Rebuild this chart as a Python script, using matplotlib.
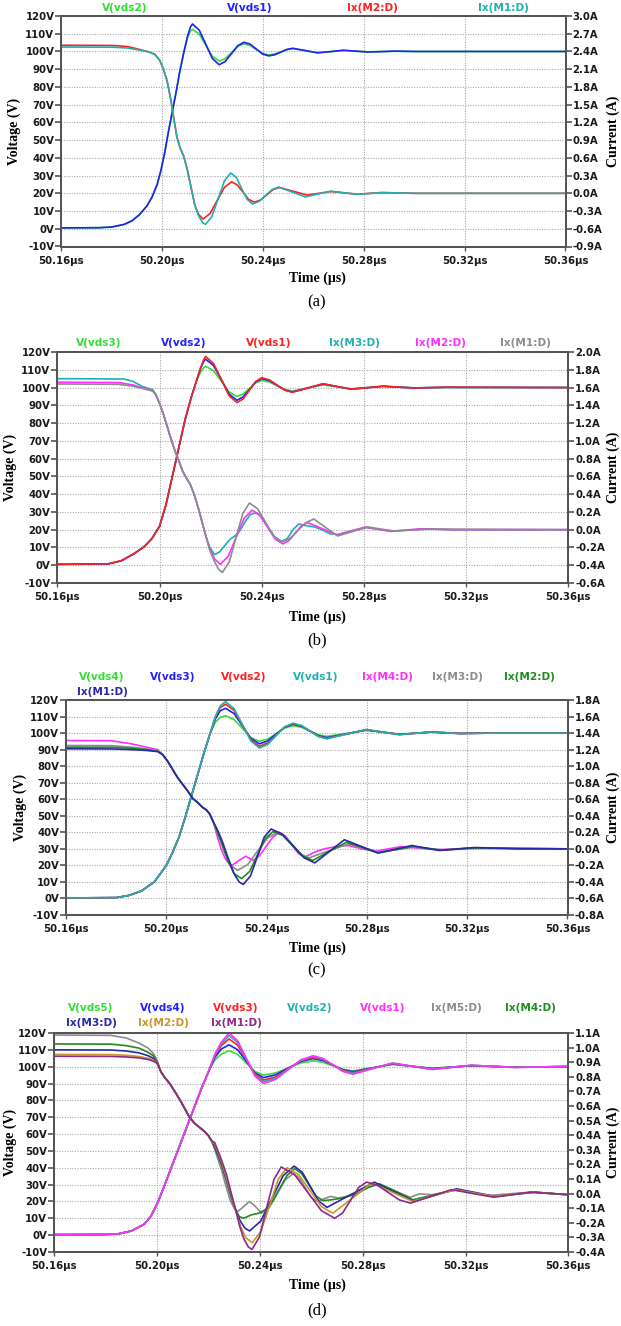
import matplotlib
matplotlib.use('Agg')
import matplotlib.pyplot as plt
from matplotlib.ticker import FixedLocator

plt.rcParams['font.family'] = ['DejaVu Sans']
plt.rcParams['font.weight'] = 'bold'

W, H = 621, 1326
fig = plt.figure(figsize=(W / 100, H / 100), dpi=100)

# ---------------- common axis data ----------------
x_ticks = [50.16, 50.20, 50.24, 50.28, 50.32, 50.36]
x_labels = ['50.16µs', '50.20µs', '50.24µs', '50.28µs', '50.32µs', '50.36µs']
v_ticks = [-10, 0, 10, 20, 30, 40, 50, 60, 70, 80, 90, 100, 110, 120]
ra_ticks = [-0.9, -0.6, -0.3, 0.0, 0.3, 0.6, 0.9, 1.2, 1.5, 1.8, 2.1, 2.4, 2.7, 3.0]
rb_ticks = [-0.6, -0.4, -0.2, 0.0, 0.2, 0.4, 0.6, 0.8, 1.0, 1.2, 1.4, 1.6, 1.8, 2.0]
rc_ticks = [-0.8, -0.6, -0.4, -0.2, 0.0, 0.2, 0.4, 0.6, 0.8, 1.0, 1.2, 1.4, 1.6, 1.8]
rd_ticks = [-0.4, -0.3, -0.2, -0.1, 0.0, 0.1, 0.2, 0.3, 0.4, 0.5, 0.6, 0.7, 0.8, 0.9, 1.0, 1.1]

GREEN = '#30e030'; BLUE = '#2020ff'; RED = '#ff2020'; CYAN = '#20b0b0'
MAGENTA = '#ff30ff'; GRAY = '#8c8c8c'; DKGREEN = '#1e8c1e'; NAVY = '#2828a8'
GOLD = '#c8962a'; PURPLE = '#8c2a8c'

# ================= panel (a) =================
t_rise_a = [50.160, 50.175, 50.180, 50.185, 50.188, 50.191, 50.194, 50.196, 50.198, 50.1995,
            50.201, 50.2025, 50.204, 50.2055, 50.207, 50.2085]
v_rise_a = [0.5, 0.6, 1.0, 2.5, 4.5, 8, 13, 18, 25, 33, 43, 55, 66, 77, 89, 99]
t_ring_a = [50.2085, 50.2100, 50.2112, 50.2120, 50.2147, 50.2173, 50.2199, 50.2226, 50.2250, 50.2275,
            50.2300, 50.2324, 50.2348, 50.2373, 50.2398, 50.2422, 50.2446, 50.2470, 50.2494, 50.2518,
            50.2567, 50.2616, 50.2667, 50.2718, 50.2766, 50.2814, 50.2867, 50.2920, 50.3000, 50.3600]
vds1_a = [99, 108.5, 113.8, 115.5, 112, 104, 96, 92.5, 94.4, 98.8, 103.3, 105.2, 104.2, 101.4, 98.6,
          97.5, 98.1, 99.6, 101.1, 101.8, 100.5, 99.2, 99.9, 100.7, 100.2, 99.7, 99.9, 100.2, 100, 100]
vds2_a = [99, 107.5, 111.5, 112.5, 109.8, 103.5, 97.3, 94.5, 96, 99.4, 102.8, 104.3, 103.4, 101.1, 98.9,
          98, 98.6, 99.8, 101, 101.6, 100.5, 99.4, 99.9, 100.5, 100.2, 99.8, 99.9, 100.1, 100, 100]
t_ixm2_a = [50.160, 50.180, 50.186, 50.190, 50.194, 50.197, 50.199, 50.2005, 50.202, 50.2035,
            50.2045, 50.2058, 50.207, 50.2085, 50.2100, 50.2115, 50.2130, 50.2145, 50.2162, 50.2190,
            50.2218, 50.2247, 50.2275, 50.2297, 50.2320, 50.2342, 50.2365, 50.2390, 50.2415, 50.2440,
            50.2465, 50.2520, 50.2575, 50.2622, 50.2670, 50.2722, 50.2775, 50.2870, 50.3000, 50.3600]
ixm2_a = [2.505, 2.502, 2.484, 2.445, 2.400, 2.355, 2.250, 2.100, 1.890, 1.560,
          1.290, 0.960, 0.780, 0.630, 0.390, 0.090, -0.210, -0.360, -0.435, -0.342,
          -0.120, 0.102, 0.195, 0.144, 0.0225, -0.099, -0.150, -0.114, -0.0255, 0.063,
          0.099, 0.0345, -0.030, 0.0, 0.030, 0.0075, -0.015, 0.012, 0.0, 0.0]
t_ixm1_a = [50.160, 50.180, 50.186, 50.190, 50.194, 50.197, 50.199, 50.2005, 50.202, 50.2035,
            50.2045, 50.2058, 50.207, 50.2085, 50.2100, 50.2115, 50.2130, 50.2145, 50.2160, 50.2172,
            50.2197, 50.2222, 50.2247, 50.2272, 50.2294, 50.2315, 50.2337, 50.2358, 50.2384, 50.2410,
            50.2436, 50.2462, 50.2515, 50.2568, 50.2618, 50.2668, 50.2722, 50.2775, 50.2870, 50.3000, 50.3600]
ixm1_a = [2.475, 2.472, 2.460, 2.430, 2.400, 2.355, 2.250, 2.100, 1.890, 1.560,
          1.290, 0.960, 0.780, 0.630, 0.390, 0.090, -0.210, -0.390, -0.495, -0.525,
          -0.393, -0.090, 0.213, 0.345, 0.267, 0.0825, -0.102, -0.180, -0.138, -0.0375,
          0.063, 0.105, 0.0225, -0.060, -0.012, 0.036, 0.009, -0.018, 0.012, 0.0, 0.0]

# ================= panel (b) =================
t_rise_b = [50.160, 50.180, 50.185, 50.190, 50.194, 50.197, 50.200, 50.2025, 50.205, 50.2075,
            50.210, 50.2125, 50.2145]
v_rise_b = [0.5, 0.8, 2.5, 6.5, 10.5, 15, 22, 34, 50, 66, 82, 95, 104]
t_ring_b = [50.2145, 50.2160, 50.2172, 50.2180, 50.2211, 50.2242, 50.2272, 50.2303, 50.2327, 50.2352,
            50.2376, 50.2400, 50.2430, 50.2460, 50.2490, 50.2520, 50.2580, 50.2640, 50.2695, 50.2750,
            50.2812, 50.2875, 50.2935, 50.2995, 50.3058, 50.3120, 50.3600]
vds1_b = [104, 111, 115.5, 117.5, 113.6, 104.5, 95.4, 91.5, 93.6, 98.5, 103.4, 105.5, 104.3, 101.4,
          98.5, 97.3, 99.75, 102.2, 100.6, 99.0, 99.9, 100.8, 100.25, 99.7, 99.95, 100.2, 100]
vds2_b = [104, 110.5, 114.5, 116, 112.4, 104.4, 96.4, 92.8, 94.7, 98.9, 103.1, 105, 103.9, 101.25,
          98.6, 97.5, 99.75, 102, 100.55, 99.1, 99.9, 100.7, 100.25, 99.8, 99.95, 100.1, 100]
vds3_b = [104, 108.5, 111, 112, 109.5, 103.5, 97.5, 95, 96.35, 99.5, 102.65, 104, 103.1, 101,
          98.9, 98, 99.75, 101.5, 100.4, 99.3, 99.95, 100.6, 100.2, 99.8, 99.95, 100.1, 100]
t_fall_b = [50.1985, 50.2000, 50.2015, 50.2030, 50.2045, 50.2060, 50.2075, 50.2090, 50.2105, 50.2120,
            50.2135, 50.2150, 50.2165, 50.2180]
i_fall_b = [1.52, 1.42, 1.30, 1.16, 1.02, 0.89, 0.78, 0.66, 0.58, 0.51, 0.40, 0.26, 0.10, -0.06]
t_pre_m3_b = [50.160, 50.186, 50.1895, 50.1934, 50.1973]
i_pre_m3_b = [1.70, 1.696, 1.67, 1.61, 1.576]
t_pre_m2_b = [50.160, 50.184, 50.1895, 50.1934, 50.1973]
i_pre_m2_b = [1.66, 1.656, 1.63, 1.596, 1.566]
t_pre_m1_b = [50.160, 50.184, 50.1895, 50.1934, 50.1973]
i_pre_m1_b = [1.64, 1.636, 1.616, 1.588, 1.56]
t_post_m3_b = [50.2195, 50.2215, 50.2235, 50.2255, 50.2275, 50.2295, 50.2315, 50.2335, 50.2355, 50.2378,
               50.2400, 50.2425, 50.2450, 50.2478, 50.2500, 50.2522, 50.2545, 50.2575, 50.2605, 50.2635,
               50.2665, 50.2697, 50.2755, 50.2810, 50.2865, 50.2915, 50.2985, 50.3050, 50.3150, 50.3600]
i_post_m3_b = [-0.19, -0.28, -0.25, -0.18, -0.11, -0.07, -0.01, 0.09, 0.17, 0.19,
               0.15, 0.03, -0.08, -0.13, -0.10, 0.0, 0.064, 0.044, 0.032, 0.0,
               -0.044, -0.054, -0.01, 0.024, 0.0, -0.016, -0.004, 0.01, 0.0, 0.0]
t_post_m2_b = [50.2195, 50.2215, 50.2238, 50.2269, 50.2300, 50.2331, 50.2362, 50.2392, 50.2422, 50.2452,
               50.2482, 50.2506, 50.2531, 50.2555, 50.2580, 50.2638, 50.2695, 50.2750, 50.2805, 50.2855,
               50.2905, 50.2960, 50.3020, 50.3150, 50.3600]
i_post_m2_b = [-0.20, -0.33, -0.39, -0.298, -0.085, 0.128, 0.22, 0.163, 0.03, -0.103,
               -0.16, -0.124, -0.04, 0.044, 0.08, 0.01, -0.06, -0.015, 0.03, 0.005,
               -0.02, -0.005, 0.01, 0.0, 0.0]
t_post_m1_b = [50.2195, 50.2215, 50.2232, 50.2246, 50.2273, 50.2299, 50.2326, 50.2352, 50.2384, 50.2415,
               50.2447, 50.2478, 50.2510, 50.2541, 50.2573, 50.2604, 50.2650, 50.2697, 50.2756, 50.2815,
               50.2865, 50.2915, 50.3050, 50.3600]
i_post_m1_b = [-0.22, -0.36, -0.45, -0.48, -0.362, -0.09, 0.184, 0.30, 0.234, 0.08,
               -0.074, -0.14, -0.10, -0.01, 0.08, 0.12, 0.025, -0.07, -0.02, 0.03,
               0.008, -0.014, 0.006, 0.0]

# ================= panel (c) =================
t_rise_c = [50.160, 50.180, 50.185, 50.190, 50.1952, 50.200, 50.2025, 50.205, 50.2075, 50.210,
            50.2125, 50.215, 50.2175]
v_rise_c = [0.3, 0.5, 1.8, 4.5, 10, 20, 28, 37, 49, 62, 75, 88, 100]
t_ring_c = [50.2175, 50.2195, 50.2215, 50.2236, 50.2270, 50.2304, 50.2337, 50.2371, 50.2405, 50.2438,
            50.2472, 50.2505, 50.2539, 50.2573, 50.2606, 50.2640, 50.2719, 50.2797, 50.2864, 50.2930,
            50.2994, 50.3058, 50.3114, 50.3170, 50.3300, 50.3600]
vds1_c = [100, 110, 116.5, 119, 114.8, 105, 95.2, 91, 93.25, 98.5, 103.75, 106, 104.6, 101.25, 97.9,
          96.5, 99.35, 102.2, 100.6, 99, 99.9, 100.8, 100.25, 99.7, 100, 100]
vds2_c = [100, 109.5, 115.5, 117.5, 113.7, 104.75, 95.8, 92, 94.05, 98.85, 103.65, 105.7, 104.4, 101.25,
          98.1, 96.8, 99.4, 102, 100.55, 99.1, 99.9, 100.7, 100.2, 99.7, 100, 100]
vds3_c = [100, 108.5, 113.5, 115, 111.8, 104.25, 96.7, 93.5, 95.3, 99.4, 103.5, 105.3, 104.1, 101.25,
          98.4, 97.2, 99.55, 101.9, 100.55, 99.2, 99.9, 100.6, 100.2, 99.8, 100, 100]
vds4_c = [100, 106.5, 109.5, 110.5, 108.2, 102.75, 97.3, 95, 96.4, 99.75, 103.1, 104.5, 103.5, 101.25,
          99, 98, 99.8, 101.6, 100.5, 99.4, 99.95, 100.5, 100.15, 99.8, 100, 100]
t_pre_c = [50.160, 50.178, 50.186, 50.192, 50.1965]
i_pre_m4_c = [1.31, 1.308, 1.27, 1.23, 1.20]
i_pre_m3_c = [1.25, 1.248, 1.23, 1.21, 1.186]
i_pre_m2_c = [1.23, 1.228, 1.216, 1.20, 1.18]
i_pre_m1_c = [1.21, 1.208, 1.20, 1.19, 1.176]
t_fall_c = [50.1985, 50.2005, 50.2025, 50.2045, 50.2065, 50.2085, 50.2105, 50.2125, 50.2145, 50.2160,
            50.2173, 50.2188]
i_fall_c = [1.14, 1.06, 0.96, 0.86, 0.78, 0.70, 0.61, 0.56, 0.50, 0.47, 0.42, 0.32]
t_post_m4_c = [50.2202, 50.2218, 50.2235, 50.2250, 50.2262, 50.2290, 50.2316, 50.2347, 50.2372, 50.2398,
               50.2424, 50.2450, 50.2475, 50.2500, 50.2526, 50.2552, 50.2590, 50.2630, 50.2680, 50.2726,
               50.2780, 50.2835, 50.2885, 50.2935, 50.3000, 50.3080, 50.3200, 50.3600]
i_post_m4_c = [0.16, 0.00, -0.12, -0.18, -0.20, -0.14, -0.09, -0.14, -0.08, 0.03,
               0.14, 0.20, 0.156, 0.05, -0.056, -0.10, -0.04, 0.00, 0.03, 0.04,
               0.00, -0.03, 0.00, 0.026, 0.01, -0.01, 0.006, 0.0]
t_post_m3_c = [50.2202, 50.2220, 50.2240, 50.2260, 50.2284, 50.2324, 50.2363, 50.2403, 50.2442, 50.2473,
               50.2505, 50.2536, 50.2568, 50.2647, 50.2726, 50.2789, 50.2852, 50.2918, 50.2985, 50.3110,
               50.3250, 50.3600]
i_post_m3_c = [0.20, 0.06, -0.10, -0.21, -0.26, -0.191, -0.03, 0.13, 0.20, 0.154,
               0.045, -0.064, -0.11, -0.025, 0.06, 0.01, -0.04, -0.01, 0.02, -0.014,
               0.01, 0.0]
t_post_m2_c = [50.2202, 50.2222, 50.2245, 50.2270, 50.2300, 50.2332, 50.2363, 50.2395, 50.2426, 50.2466,
               50.2505, 50.2545, 50.2584, 50.2651, 50.2718, 50.2781, 50.2844, 50.2915, 50.2985, 50.3095,
               50.3230, 50.3600]
i_post_m2_c = [0.22, 0.06, -0.14, -0.30, -0.36, -0.274, -0.075, 0.124, 0.21, 0.158,
               0.035, -0.088, -0.14, -0.03, 0.08, 0.015, -0.05, -0.01, 0.03, -0.016,
               0.012, 0.0]
t_post_m1_c = [50.2202, 50.2222, 50.2245, 50.2270, 50.2290, 50.2307, 50.2335, 50.2363, 50.2390, 50.2418,
               50.2462, 50.2505, 50.2549, 50.2592, 50.2651, 50.2710, 50.2777, 50.2844, 50.2911, 50.2979,
               50.3034, 50.3089, 50.3230, 50.3400, 50.3600]
i_post_m1_c = [0.24, 0.10, -0.10, -0.30, -0.40, -0.43, -0.33, -0.095, 0.14, 0.24,
               0.178, 0.035, -0.108, -0.17, -0.03, 0.11, 0.03, -0.05, -0.005, 0.04,
               0.01, -0.02, 0.016, 0.0, 0.0]

# ================= panel (d) =================
t_rise_d = [50.160, 50.180, 50.185, 50.190, 50.195, 50.1975, 50.200, 50.2025, 50.205, 50.2075,
            50.210, 50.2125, 50.215, 50.2175, 50.220]
v_rise_d = [0.3, 0.4, 0.8, 2.5, 6.5, 11, 18.5, 28, 38, 48, 58, 68, 78, 88, 97]
t_ring_d = [50.2200, 50.2225, 50.2250, 50.2280, 50.2313, 50.2347, 50.2380, 50.2414, 50.2462, 50.2510,
            50.2559, 50.2607, 50.2646, 50.2685, 50.2723, 50.2762, 50.2839, 50.2916, 50.2993, 50.3070,
            50.3147, 50.3223, 50.3307, 50.3390, 50.3600]
vds1_d = [97, 107.5, 114.5, 120, 115.5, 105, 94.5, 90, 92.5, 98.25, 104, 106.5, 104.85, 101, 97.15,
          95.5, 98.85, 102.2, 100.25, 98.3, 99.6, 100.9, 100.2, 99.5, 100.2]
vds2_d = [97, 107, 113.5, 118.5, 114.4, 104.75, 95.1, 91, 93.25, 98.5, 103.75, 106, 104.5, 101, 97.5,
          96, 99, 102, 100.25, 98.5, 99.65, 100.8, 100.2, 99.6, 100.1]
vds3_d = [97, 106.5, 112.5, 116.5, 112.8, 104.25, 95.7, 92, 94, 98.75, 103.5, 105.5, 104.15, 101, 97.85,
          96.5, 99.15, 101.8, 100.25, 98.7, 99.7, 100.7, 100.2, 99.7, 100.1]
vds4_d = [97, 105.5, 110.5, 113, 110.1, 103.25, 96.4, 93.5, 95.2, 99.15, 103.1, 104.8, 103.6, 100.9, 98.2,
          97, 99.3, 101.6, 100.25, 98.9, 99.75, 100.6, 100.15, 99.7, 100.1]
vds5_d = [97, 104, 107.5, 109.5, 107.3, 102.25, 97.2, 95, 96.3, 99.25, 102.2, 103.5, 102.6, 100.5, 98.4,
          97.5, 99.4, 101.3, 100.2, 99.1, 99.8, 100.5, 100.15, 99.8, 100]
t_pre_d = [50.160, 50.182, 50.188, 50.193, 50.1965, 50.1985, 50.200]
i_pre_m5_d = [1.0861, 1.0838, 1.0654, 1.0307, 0.9961, 0.9615, 0.9096]
i_pre_m4_d = [1.0250, 1.0238, 1.0134, 0.9961, 0.9673, 0.9442, 0.9038]
i_pre_m3_d = [0.9846, 0.9835, 0.9765, 0.9638, 0.9442, 0.9269, 0.8980]
i_pre_m2_d = [0.9534, 0.9523, 0.9477, 0.9384, 0.9269, 0.9154, 0.8946]
i_pre_m1_d = [0.9407, 0.9396, 0.9361, 0.9292, 0.9188, 0.9073, 0.8923]
t_fall_d = [50.2015, 50.2030, 50.2049, 50.2070, 50.2090, 50.2108, 50.2126, 50.2145, 50.2165, 50.2185,
            50.2200, 50.2212]
i_fall_d = [0.8346, 0.7942, 0.7538, 0.6961, 0.6384, 0.5808, 0.5231, 0.4827, 0.4538, 0.4250,
            0.3961, 0.3615]
t_post_m5_d = [50.2224, 50.2237, 50.2252, 50.2268, 50.2285, 50.2300, 50.2314, 50.2337, 50.2359, 50.2383,
               50.2406, 50.2437, 50.2468, 50.2499, 50.2530, 50.2553, 50.2576, 50.2599, 50.2622, 50.2675,
               50.2705, 50.2775, 50.2820, 50.2860, 50.2925, 50.2985, 50.3020, 50.3070, 50.3170, 50.3285,
               50.3450, 50.3600]
i_post_m5_d = [0.3038, 0.2346, 0.1538, 0.0500, -0.0481, -0.1000, -0.1231, -0.0885, -0.0538, -0.0885,
               -0.1346, -0.0942, 0.0010, 0.0961, 0.1365, 0.1077, 0.0413, -0.0250, -0.0538, -0.0192,
               -0.0308, -0.0077, 0.0442, 0.0615, 0.0154, -0.0250, -0.0019, -0.0077, 0.0269, -0.0135,
               0.0096, -0.0077]
t_post_m4_d = [50.2224, 50.2237, 50.2252, 50.2268, 50.2285, 50.2305, 50.2320, 50.2337, 50.2365, 50.2395,
               50.2420, 50.2449, 50.2478, 50.2506, 50.2535, 50.2562, 50.2590, 50.2617, 50.2645, 50.2680,
               50.2720, 50.2780, 50.2825, 50.2865, 50.2930, 50.2995, 50.3080, 50.3165, 50.3305, 50.3465,
               50.3600]
i_post_m4_d = [0.3154, 0.2577, 0.1885, 0.0961, -0.0077, -0.1115, -0.1577, -0.1692, -0.1462, -0.1346,
               -0.1115, -0.0538, 0.0385, 0.1250, 0.1711, 0.1377, 0.0615, -0.0146, -0.0481, -0.0423,
               -0.0308, 0.0038, 0.0442, 0.0673, 0.0154, -0.0423, -0.0077, 0.0269, -0.0192, 0.0108,
               -0.0077]
t_post_m3_d = [50.2224, 50.2237, 50.2252, 50.2268, 50.2285, 50.2305, 50.2325, 50.2343, 50.2360, 50.2403,
               50.2447, 50.2490, 50.2533, 50.2565, 50.2597, 50.2629, 50.2661, 50.2753, 50.2845, 50.2922,
               50.3000, 50.3083, 50.3165, 50.3315, 50.3470, 50.3600]
i_post_m3_d = [0.3269, 0.2692, 0.2000, 0.1077, 0.0038, -0.1115, -0.1923, -0.2385, -0.2558, -0.1888,
               -0.0337, 0.1215, 0.1885, 0.1458, 0.0471, -0.0515, -0.0942, -0.0077, 0.0788, 0.0125,
               -0.0538, -0.0106, 0.0327, -0.0192, 0.0096, -0.0077]
t_post_m2_d = [50.2224, 50.2237, 50.2252, 50.2268, 50.2285, 50.2305, 50.2325, 50.2345, 50.2370, 50.2404,
               50.2438, 50.2472, 50.2506, 50.2550, 50.2595, 50.2639, 50.2684, 50.2760, 50.2835, 50.2915,
               50.2995, 50.3077, 50.3160, 50.3310, 50.3460, 50.3600]
i_post_m2_d = [0.3385, 0.2808, 0.2115, 0.1192, 0.0154, -0.1115, -0.2269, -0.3019, -0.3365, -0.2592,
               -0.0798, 0.0996, 0.1769, 0.1308, 0.0211, -0.0885, -0.1346, -0.0308, 0.0731, 0.0096,
               -0.0538, -0.0135, 0.0269, -0.0192, 0.0096, -0.0077]
t_post_m1_d = [50.2224, 50.2237, 50.2252, 50.2270, 50.2290, 50.2306, 50.2322, 50.2337, 50.2355, 50.2369,
               50.2398, 50.2426, 50.2455, 50.2483, 50.2535, 50.2587, 50.2639, 50.2691, 50.2722, 50.2753,
               50.2784, 50.2815, 50.2858, 50.2900, 50.2943, 50.2986, 50.3065, 50.3145, 50.3310, 50.3454,
               50.3600]
i_post_m1_d = [0.3500, 0.2923, 0.2231, 0.1308, -0.0077, -0.1115, -0.2269, -0.3077, -0.3654, -0.3827,
               -0.2979, -0.1000, 0.0979, 0.1827, 0.1296, 0.0067, -0.1162, -0.1692, -0.1323, -0.0452,
               0.0419, 0.0788, 0.0569, 0.0067, -0.0435, -0.0654, -0.0192, 0.0269, -0.0250, 0.0096,
               -0.0077]

# ---------------- layout (pixels) ----------------
PT = 72 / 100  # points per pixel at 100 dpi


def px_rect(left, right, top, bottom):
    return [left / W, 1 - bottom / H, (right - left) / W, (bottom - top) / H]


def setup(rect, r_ticks, r_lim):
    ax = fig.add_axes(rect)
    ax.set_xlim(50.16, 50.36)
    ax.set_ylim(-10, 120)
    ax.xaxis.set_major_locator(FixedLocator(x_ticks))
    ax.set_xticklabels(x_labels)
    ax.yaxis.set_major_locator(FixedLocator(v_ticks))
    ax.set_yticklabels([f"{v}V" for v in v_ticks])
    ax.grid(True, color='#a8a8a8', lw=0.8, linestyle=(0, (1, 1.3)))
    ax.set_axisbelow(True)
    ax2 = ax.twinx()
    ax2.set_ylim(*r_lim)
    ax2.yaxis.set_major_locator(FixedLocator(r_ticks))
    ax2.set_yticklabels([f"{v:.1f}A" for v in r_ticks])
    for a in (ax, ax2):
        for s in a.spines.values():
            s.set_color('#555555')
            s.set_linewidth(1.4)
        a.tick_params(axis='y', colors='#555555', labelcolor='#1a1a1a', width=1.2,
                      length=6 * PT, labelsize=7.3, pad=1 * PT)
    ax.tick_params(axis='x', colors='#555555', labelcolor='#1a1a1a', width=1.0,
                   length=4 * PT, pad=5 * PT, labelsize=7.3)
    return ax, ax2


def labels(ax, vx, rx, time_y, cap_y, cap):
    pos = ax.get_position()
    yc = pos.y0 + pos.height / 2
    fig.text(vx / W, yc, 'Voltage (V)', rotation=90, ha='center', va='center',
             family='Liberation Serif', fontsize=10, fontweight='bold')
    fig.text(rx / W, yc, 'Current (A)', rotation=90, ha='center', va='center',
             family='Liberation Serif', fontsize=10, fontweight='bold')
    fig.text(317 / W, 1 - time_y / H, 'Time (µs)', ha='center', va='center',
             family='Liberation Serif', fontsize=10, fontweight='bold')
    fig.text(317 / W, 1 - cap_y / H, cap, ha='center', va='center',
             family='Liberation Serif', fontsize=12, fontweight='normal')


def legend(items, y):
    for name, color, x in items:
        fig.text(x / W, 1 - y / H, name, color=color, ha='center', va='center',
                 fontsize=7.6, fontweight='bold')


LW = 1.2

# ---- panel (a)
axa, axa2 = setup(px_rect(61.4, 565.5, 16, 246.5), ra_ticks, (-0.9, 3.0))
axa.plot(t_rise_a + t_ring_a, v_rise_a + vds2_a, color=GREEN, lw=LW)
axa.plot(t_rise_a + t_ring_a, v_rise_a + vds1_a, color=BLUE, lw=LW)
axa2.plot(t_ixm2_a, ixm2_a, color=RED, lw=LW)
axa2.plot(t_ixm1_a, ixm1_a, color=CYAN, lw=LW)
labels(axa, 14, 613, 278, 302, '(a)')
legend([('V(vds2)', GREEN, 125), ('V(vds1)', BLUE, 250), ('Ix(M2:D)', RED, 372),
        ('Ix(M1:D)', CYAN, 503)], 8)

# ---- panel (b)
axb, axb2 = setup(px_rect(57.4, 568.3, 352, 583), rb_ticks, (-0.6, 2.0))
for v, c in ((vds3_b, GREEN), (vds2_b, BLUE), (vds1_b, RED)):
    axb.plot(t_rise_b + t_ring_b, v_rise_b + v, color=c, lw=LW)
for tp, ip, tq, iq, c in ((t_pre_m3_b, i_pre_m3_b, t_post_m3_b, i_post_m3_b, CYAN),
                          (t_pre_m2_b, i_pre_m2_b, t_post_m2_b, i_post_m2_b, MAGENTA),
                          (t_pre_m1_b, i_pre_m1_b, t_post_m1_b, i_post_m1_b, GRAY)):
    axb2.plot(tp + t_fall_b + tq, ip + i_fall_b + iq, color=c, lw=LW)
labels(axb, 10, 613, 617, 640, '(b)')
legend([('V(vds3)', GREEN, 99), ('V(vds2)', BLUE, 184), ('V(vds1)', RED, 269),
        ('Ix(M3:D)', CYAN, 354), ('Ix(M2:D)', MAGENTA, 440), ('Ix(M1:D)', GRAY, 525)], 343)

# ---- panel (c)
axc, axc2 = setup(px_rect(66.1, 567.5, 700, 915), rc_ticks, (-0.8, 1.8))
for v, c in ((vds4_c, GREEN), (vds3_c, BLUE), (vds2_c, RED), (vds1_c, CYAN)):
    axc.plot(t_rise_c + t_ring_c, v_rise_c + v, color=c, lw=LW)
for ip, tq, iq, c in ((i_pre_m4_c, t_post_m4_c, i_post_m4_c, MAGENTA),
                      (i_pre_m3_c, t_post_m3_c, i_post_m3_c, GRAY),
                      (i_pre_m2_c, t_post_m2_c, i_post_m2_c, DKGREEN),
                      (i_pre_m1_c, t_post_m1_c, i_post_m1_c, NAVY)):
    axc2.plot(t_pre_c + t_fall_c + tq, ip + i_fall_c + iq, color=c, lw=LW)
labels(axc, 20, 613, 948, 970, '(c)')
legend([('V(vds4)', GREEN, 102), ('V(vds3)', BLUE, 173), ('V(vds2)', RED, 244),
        ('V(vds1)', CYAN, 316), ('Ix(M4:D)', MAGENTA, 387), ('Ix(M3:D)', GRAY, 457),
        ('Ix(M2:D)', DKGREEN, 529)], 677)
legend([('Ix(M1:D)', NAVY, 102)], 692)

# ---- panel (d)
axd, axd2 = setup(px_rect(54.3, 568.3, 1033, 1252), rd_ticks, (-0.4, 1.1))
for v, c in ((vds5_d, GREEN), (vds4_d, BLUE), (vds3_d, RED), (vds2_d, CYAN), (vds1_d, MAGENTA)):
    axd.plot(t_rise_d + t_ring_d, v_rise_d + v, color=c, lw=LW)
for ip, tq, iq, c in ((i_pre_m5_d, t_post_m5_d, i_post_m5_d, GRAY),
                      (i_pre_m4_d, t_post_m4_d, i_post_m4_d, DKGREEN),
                      (i_pre_m3_d, t_post_m3_d, i_post_m3_d, NAVY),
                      (i_pre_m2_d, t_post_m2_d, i_post_m2_d, GOLD),
                      (i_pre_m1_d, t_post_m1_d, i_post_m1_d, PURPLE)):
    axd2.plot(t_pre_d + t_fall_d + tq, ip + i_fall_d + iq, color=c, lw=LW)
labels(axd, 10, 613, 1285, 1310, '(d)')
legend([('V(vds5)', GREEN, 91), ('V(vds4)', BLUE, 163), ('V(vds3)', RED, 236),
        ('V(vds2)', CYAN, 310), ('V(vds1)', MAGENTA, 383), ('Ix(M5:D)', GRAY, 456),
        ('Ix(M4:D)', DKGREEN, 530)], 1008)
legend([('Ix(M3:D)', NAVY, 91), ('Ix(M2:D)', GOLD, 163), ('Ix(M1:D)', PURPLE, 236)], 1023)

fig.savefig('out.png', dpi=100)
